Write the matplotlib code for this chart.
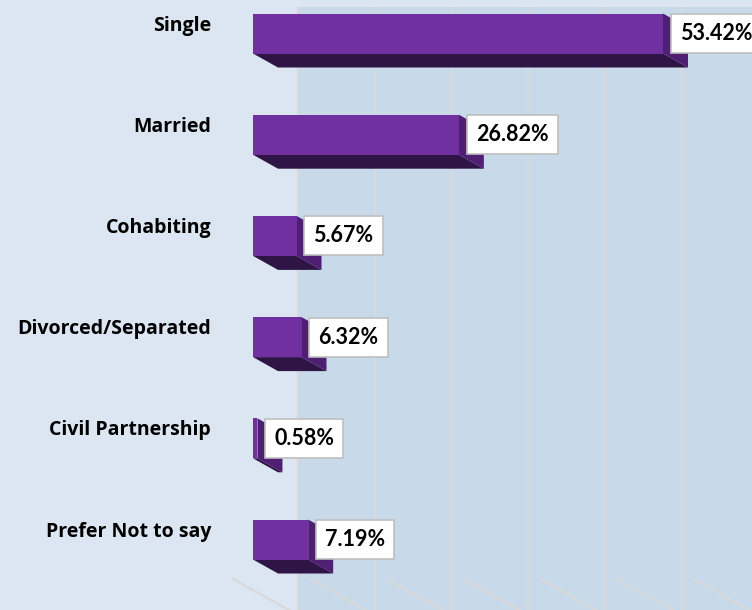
import matplotlib
matplotlib.use("Agg")
import matplotlib.pyplot as plt
from matplotlib.patches import Polygon, Rectangle

categories = ["Single", "Married", "Cohabiting", "Divorced/Separated",
              "Civil Partnership", "Prefer Not to say"]
values = [53.42, 26.82, 5.67, 6.32, 0.58, 7.19]
value_labels = ["53.42%", "26.82%", "5.67%", "6.32%", "0.58%", "7.19%"]
grid_ticks = [0, 10, 20, 30, 40, 50, 60]

W, H = 752, 610
fig = plt.figure(figsize=(W / 100, H / 100), dpi=100)
fig.patch.set_facecolor("#dce6f2")
ax = fig.add_axes([0, 0, 1, 1])
ax.set_facecolor("#dce6f2")

# scale: pixels per percent / per category
sx = 7.675
sy = 101.2
x0_px = 253
y0_px = 33.5
ax.set_xlim(-x0_px / sx, (W - x0_px) / sx)
ax.set_ylim((H - y0_px) / sy, -y0_px / sy)
ax.axis("off")

def px_x(p):
    return p / sx

def px_y(p):
    return p / sy

bar_h = px_y(40)
dep_x = px_x(25)
dep_y = px_y(14)

# back wall
wall_off_x = px_x(45)
wall_top = px_y(7 - y0_px)
ax.add_patch(Rectangle((wall_off_x, wall_top), 100, 100, facecolor="#c8d9ea",
                       edgecolor="none", zorder=0))
for t in grid_ticks:
    ax.plot([t + wall_off_x, t + wall_off_x], [wall_top, 100], color="#d8d9db",
            lw=1.6, zorder=1, solid_capstyle="butt")
# floor lines
floor_y = px_y(579 - y0_px)
for t in grid_ticks:
    xs = t - px_x(20)
    ax.plot([xs, xs + px_x(90)], [floor_y, floor_y + px_y(50)], color="#d8d9db",
            lw=1.6, zorder=1)

front = "#7030a0"
side = "#4e1f73"
bottom = "#2f1546"

ys = list(range(len(categories)))
ax.barh(ys, values, height=bar_h, left=0, color=front, zorder=5)
for y, v in zip(ys, values):
    yb = y + bar_h / 2
    yt = y - bar_h / 2
    ax.add_patch(Polygon([(0, yb), (v, yb), (v + dep_x, yb + dep_y), (dep_x, yb + dep_y)],
                         closed=True, facecolor=bottom, edgecolor="none", zorder=4))
    ax.add_patch(Polygon([(v, yt), (v, yb), (v + dep_x, yb + dep_y), (v + dep_x, yt + dep_y)],
                         closed=True, facecolor=side, edgecolor="none", zorder=4))

for y, v, lab in zip(ys, values, value_labels):
    ax.annotate(lab, xy=(v, y), xytext=(17, 0), textcoords="offset pixels",
                ha="left", va="center", fontsize=15.5, fontweight="bold",
                family="Lato", color="black", zorder=10,
                bbox=dict(boxstyle="square,pad=0.42", facecolor="white",
                          edgecolor="#bfbfbf", lw=1.2))

for y, c in zip(ys, categories):
    ax.text(px_x(211 - x0_px), y - px_y(8), c, ha="right", va="center",
            fontsize=14, fontweight="bold", family="Open Sans", color="black", zorder=10)

fig.savefig("out.png", dpi=100, facecolor=fig.get_facecolor())
